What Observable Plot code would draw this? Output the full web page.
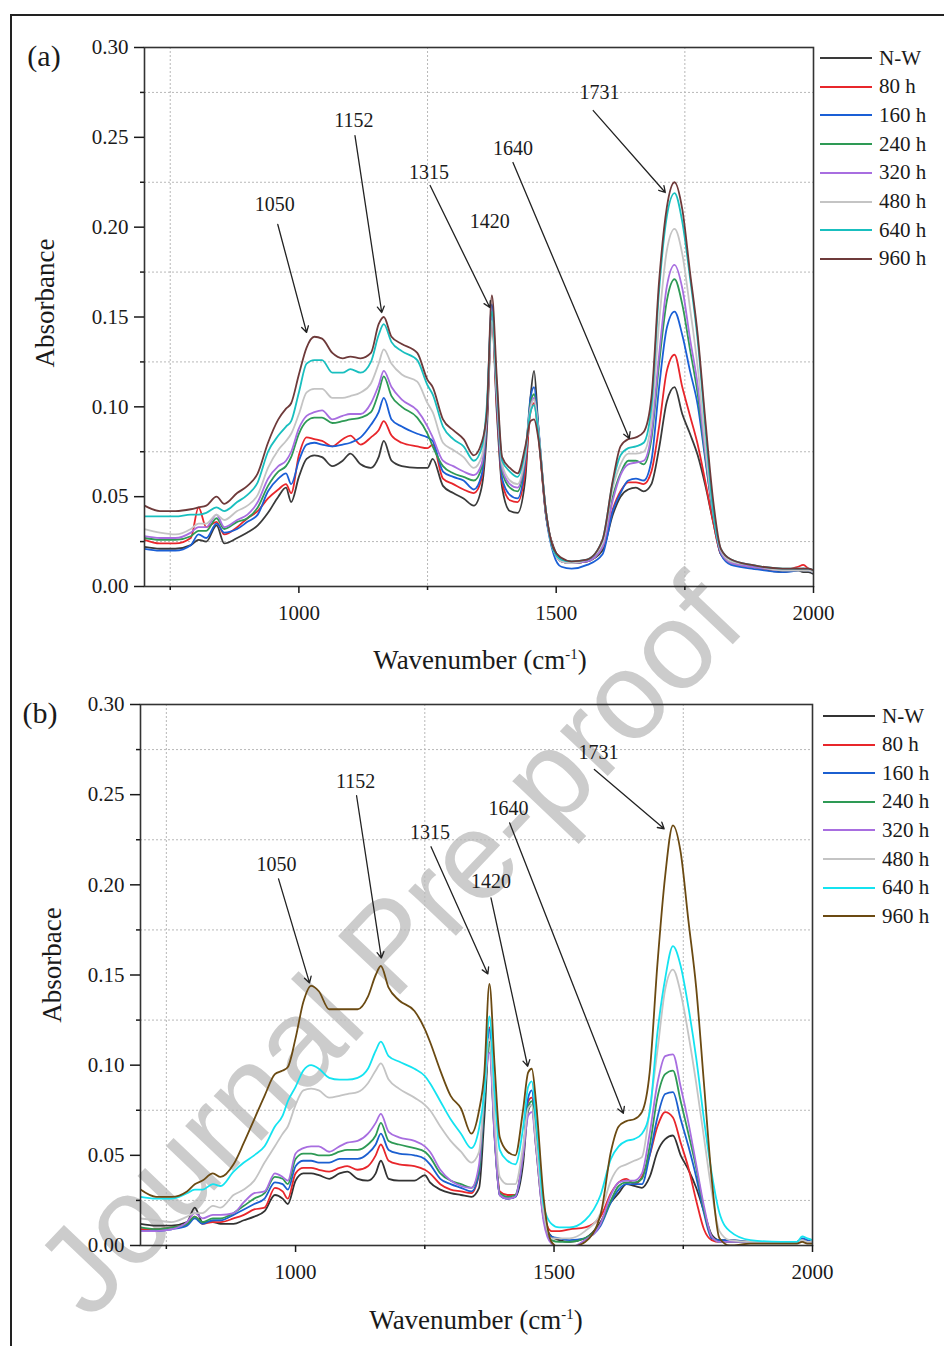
<!DOCTYPE html>
<html>
<head>
<meta charset="utf-8">
<script src="https://cdn.jsdelivr.net/npm/d3@7"></script>
<script src="https://cdn.jsdelivr.net/npm/@observablehq/plot@0.6"></script>
<style>
  html, body { margin: 0; padding: 0; background: #fff; }
  body { width: 944px; height: 1346px; overflow: hidden; position: relative; font-family: "Liberation Serif", "Times New Roman", serif; color: #1a1a1a; }
  #frame { position: absolute; left: 10px; top: 14px; width: 1000px; height: 1400px; border-left: 2px solid #222; border-top: 2px solid #222; }
  #wm { position: absolute; left: 388px; top: 945px; transform: translate(-50%, -50%) rotate(-46.5deg); font-family: "Liberation Sans", Arial, sans-serif; font-size: 124px; color: #cccccc; white-space: nowrap; z-index: 0; }
  .panel { position: absolute; left: 0; z-index: 1; }
  .lab { position: absolute; z-index: 2; white-space: nowrap; transform: translate(-50%, -50%); }
  .ylab { position: absolute; z-index: 2; white-space: nowrap; transform: translate(-50%, -50%) rotate(-90deg); font-size: 27px; }
  .xlab { font-size: 27px; }
  .plab { font-size: 30px; }
  .legrow { position: absolute; z-index: 2; height: 24px; display: flex; align-items: center; font-size: 21px; white-space: nowrap; }
  .legrow .sw { display: inline-block; width: 52px; height: 0; border-top: 2.5px solid #000; margin-right: 7px; }
</style>
</head>
<body>
<div id="frame"></div>
<div id="wm">Journal Pre-proof</div>
<div id="pa" class="panel" style="top:0px"></div>
<div id="pb" class="panel" style="top:680px"></div>
<script>
// ---------------- data ----------------
const wavenumbers = [700,730,760,790,805,820,840,855,880,900, 920,940,960,975,985,1000,1015,1030,1045,1065,
  1085,1100,1120,1140,1155,1165,1180,1200,1230,1250, 1260,1280,1300,1320,1340,1355,1365,1375,1385,1395,
  1410,1425,1440,1450,1457,1465,1480,1495,1510,1530, 1560,1590,1610,1625,1640,1655,1670,1685,1700,1715,
  1730,1745,1760,1775,1790,1805,1820,1840,1880,1940, 1970,1980,1990,2000];

const seriesNames = ["N-W","80 h","160 h","240 h","320 h","480 h","640 h","960 h"];
const colorsA = ["#3a3a3a","#e8262b","#1a5fd6","#2e9a55","#a86ee0","#c4c4c4","#19bfbf","#6e3a3a"];
const colorsB = ["#333333","#e8262b","#1b5fd0","#2e9a55","#a86ee0","#c4c4c4","#14e3f0","#6b4a12"];

// panel (a)
const a_NW = [.022,.021,.021,.023,.026,.025,.034,.024,.027,.030, .034,.041,.050,.055,.047,.061,.071,.073,.072,.067,
  .070,.074,.068,.066,.072,.081,.070,.067,.066,.066, .071,.056,.052,.049,.045,.055,.085,.148,.095,.055,
  .042,.041,.060,.105,.120,.090,.040,.022,.015,.013, .014,.020,.040,.050,.054,.055,.053,.057,.077,.103,
  .111,.096,.085,.073,.056,.036,.018,.013,.011,.008, .009,.008,.008,.007];
const a_80 = [.026,.024,.024,.027,.044,.033,.036,.029,.033,.038, .042,.049,.054,.057,.052,.073,.083,.082,.081,.078,
  .082,.084,.079,.083,.087,.092,.084,.080,.078,.077, .079,.060,.057,.054,.052,.060,.090,.150,.098,.058,
  .048,.047,.065,.097,.102,.085,.040,.021,.014,.013, .014,.022,.043,.053,.058,.058,.057,.064,.089,.120,
  .129,.111,.095,.079,.058,.036,.018,.013,.011,.009, .011,.012,.010,.008];
const a_160 = [.021,.020,.020,.023,.029,.027,.035,.030,.032,.036, .040,.053,.060,.063,.057,.070,.079,.080,.079,.078,
  .079,.080,.083,.090,.097,.105,.093,.089,.085,.083, .081,.064,.061,.059,.054,.062,.092,.157,.102,.060,
  .051,.049,.070,.105,.111,.090,.040,.018,.011,.010, .012,.018,.042,.052,.059,.060,.059,.070,.111,.144,
  .153,.140,.120,.101,.070,.040,.018,.012,.010,.008, .009,.010,.009,.008];
const a_240 = [.027,.026,.026,.028,.031,.031,.038,.032,.036,.038, .044,.056,.064,.067,.072,.085,.092,.094,.094,.091,
  .092,.093,.094,.097,.108,.117,.106,.100,.094,.085, .078,.067,.063,.061,.059,.066,.094,.152,.104,.064,
  .055,.053,.072,.102,.107,.088,.042,.020,.014,.013, .014,.022,.050,.063,.070,.070,.068,.082,.124,.159,
  .171,.157,.132,.107,.072,.040,.019,.013,.011,.009, .009,.009,.009,.008];
const a_320 = [.028,.027,.027,.030,.033,.033,.040,.033,.037,.040, .047,.060,.067,.070,.075,.088,.095,.097,.098,.093,
  .095,.096,.096,.102,.112,.120,.111,.104,.098,.089, .083,.070,.067,.064,.062,.068,.095,.150,.104,.066,
  .057,.055,.073,.100,.105,.088,.042,.020,.014,.013, .014,.022,.048,.062,.068,.069,.070,.085,.129,.167,
  .179,.166,.138,.112,.074,.041,.019,.013,.011,.009, .009,.009,.009,.008];
const a_480 = [.032,.030,.029,.032,.035,.035,.040,.037,.042,.045, .051,.066,.076,.081,.085,.096,.108,.110,.110,.105,
  .105,.106,.108,.113,.124,.132,.124,.118,.114,.102, .097,.080,.076,.072,.066,.072,.096,.148,.106,.068,
  .059,.057,.074,.099,.104,.088,.042,.020,.014,.013, .015,.024,.055,.068,.074,.074,.075,.092,.147,.187,
  .199,.185,.155,.122,.078,.042,.020,.014,.012,.009, .009,.009,.009,.008];
const a_640 = [.039,.039,.039,.040,.040,.041,.044,.042,.047,.051, .058,.075,.084,.089,.092,.108,.124,.126,.126,.119,
  .119,.121,.119,.125,.140,.146,.136,.131,.126,.112, .107,.089,.082,.078,.070,.077,.100,.153,.110,.070,
  .064,.061,.076,.097,.101,.086,.042,.020,.015,.014, .015,.026,.058,.073,.077,.078,.080,.100,.165,.206,
  .219,.203,.172,.137,.088,.042,.021,.015,.012,.010, .010,.010,.010,.009];
const a_960 = [.045,.042,.042,.043,.044,.045,.050,.046,.052,.056, .063,.080,.093,.099,.102,.118,.133,.139,.138,.130,
  .127,.128,.127,.130,.146,.150,.139,.135,.130,.115, .111,.093,.087,.082,.073,.080,.096,.162,.114,.072,
  .066,.063,.078,.092,.093,.083,.042,.021,.016,.014, .015,.026,.059,.078,.082,.083,.086,.105,.170,.211,
  .225,.210,.175,.140,.092,.048,.021,.015,.012,.010, .010,.010,.010,.009];

// panel (b)
const b_NW = [.012,.011,.011,.013,.021,.013,.013,.012,.012,.014, .016,.019,.028,.026,.023,.036,.040,.040,.039,.037,
  .040,.041,.037,.036,.040,.047,.037,.036,.036,.039, .035,.031,.029,.028,.027,.032,.070,.113,.060,.028,
  .026,.027,.045,.075,.078,.055,.015,.005,.003,.002, .004,.013,.024,.029,.034,.033,.032,.038,.052,.059,
  .061,.050,.042,.032,.019,.006,.003,.003,.002,.002, .002,.003,.002,.002];
const b_80 = [.009,.009,.010,.012,.016,.012,.013,.013,.015,.017, .020,.021,.032,.030,.026,.040,.043,.043,.042,.041,
  .043,.044,.042,.044,.050,.056,.047,.045,.044,.042, .040,.034,.031,.030,.029,.040,.085,.121,.065,.030,
  .028,.028,.050,.080,.082,.060,.018,.008,.008,.009, .010,.016,.029,.035,.037,.034,.038,.050,.066,.074,
  .071,.057,.043,.025,.009,.003,.002,.002,.002,.002, .002,.003,.002,.002];
const b_160 = [.008,.008,.009,.011,.015,.012,.014,.014,.017,.020, .023,.026,.035,.034,.031,.044,.047,.047,.046,.046,
  .048,.048,.048,.051,.056,.062,.053,.051,.050,.048, .045,.037,.034,.032,.030,.040,.080,.120,.062,.028,
  .026,.027,.050,.082,.086,.062,.016,.005,.004,.003, .004,.011,.024,.031,.034,.034,.034,.050,.071,.084,
  .085,.070,.055,.038,.018,.004,.003,.003,.002,.002, .002,.004,.003,.002];
const b_240 = [.010,.009,.010,.012,.016,.013,.015,.015,.018,.022, .026,.029,.038,.037,.034,.048,.051,.051,.050,.050,
  .052,.053,.053,.056,.061,.068,.058,.056,.054,.052, .049,.040,.036,.034,.032,.042,.080,.112,.062,.029,
  .027,.028,.050,.077,.080,.060,.015,.003,.002,.002, .004,.012,.025,.033,.035,.035,.037,.055,.082,.095,
  .097,.080,.062,.043,.020,.005,.002,.002,.002,.002, .002,.003,.002,.002];
const b_320 = [.008,.008,.009,.013,.018,.015,.017,.017,.018,.024, .029,.030,.040,.038,.036,.051,.054,.055,.055,.052,
  .055,.057,.058,.062,.068,.073,.063,.060,.058,.055, .052,.042,.036,.033,.032,.045,.085,.107,.060,.028,
  .026,.027,.050,.072,.074,.055,.013,.001,-.001,-.001, .003,.012,.028,.035,.036,.036,.040,.062,.090,.105,
  .106,.088,.068,.045,.022,.005,.002,.002,.002,.002, .002,.003,.002,.002];
const b_480 = [.015,.014,.013,.016,.018,.018,.022,.021,.028,.031, .036,.046,.055,.062,.066,.078,.086,.087,.086,.082,
  .083,.084,.085,.090,.097,.101,.092,.087,.082,.078, .075,.066,.058,.052,.046,.052,.085,.115,.070,.038,
  .034,.034,.055,.076,.078,.058,.018,.004,.004,.004, .008,.018,.036,.043,.045,.047,.049,.075,.108,.142,
  .153,.140,.117,.090,.060,.030,.008,.003,.002,.002, .002,.003,.002,.002];
const b_640 = [.027,.026,.026,.029,.031,.031,.034,.033,.041,.046, .050,.055,.066,.072,.080,.088,.097,.100,.098,.093,
  .092,.092,.093,.098,.108,.113,.105,.102,.098,.094, .090,.080,.070,.062,.054,.065,.085,.127,.085,.053,
  .047,.045,.065,.088,.091,.070,.022,.012,.010,.010, .014,.028,.048,.055,.058,.059,.062,.074,.118,.148,
  .166,.155,.132,.104,.070,.040,.018,.008,.003,.002, .002,.005,.004,.003];
const b_960 = [.031,.027,.027,.030,.034,.036,.040,.038,.045,.057, .070,.083,.095,.097,.099,.115,.135,.144,.141,.131,
  .131,.131,.131,.138,.150,.155,.143,.136,.130,.120, .113,.097,.083,.076,.062,.075,.095,.145,.100,.060,
  .052,.050,.075,.096,.098,.080,.026,.002,-.001,-.001, .002,.017,.052,.066,.069,.070,.074,.096,.156,.205,
  .233,.218,.180,.143,.090,.037,.004,.000,.001,.001, .001,.002,.001,.001];

const xMajorTicks = [1000, 1500, 2000];
const xMinorTicks = [750, 1250, 1750];
const yMajorTicks = [0, 0.05, 0.10, 0.15, 0.20, 0.25, 0.30];
const yMinorTicks = [0.025, 0.075, 0.125, 0.175, 0.225, 0.275];

// annotations: label, text position, arrow start -> arrow end (data units)
const annotA = [
  {label: "1050", tx: 953,  ty: 0.2126, x1: 959,  y1: 0.2015, x2: 1015, y2: 0.1414},
  {label: "1152", tx: 1107, ty: 0.2594, x1: 1109, y1: 0.2510, x2: 1161, y2: 0.1525},
  {label: "1315", tx: 1253, ty: 0.2304, x1: 1255, y1: 0.2232, x2: 1371, y2: 0.1553},
  {label: "1420", tx: 1371, ty: 0.2032, x1: null, y1: null,   x2: null, y2: null},
  {label: "1640", tx: 1416, ty: 0.2438, x1: 1416, y1: 0.2360, x2: 1642, y2: 0.0824},
  {label: "1731", tx: 1584, ty: 0.2750, x1: 1572, y1: 0.2649, x2: 1712, y2: 0.2193}
];
const annotB = [
  {label: "1050", tx: 963,  ty: 0.2111, x1: 967,  y1: 0.2033, x2: 1027, y2: 0.1456},
  {label: "1152", tx: 1116, ty: 0.2572, x1: 1118, y1: 0.2494, x2: 1166, y2: 0.1594},
  {label: "1315", tx: 1260, ty: 0.2289, x1: 1262, y1: 0.2211, x2: 1372, y2: 0.1506},
  {label: "1420", tx: 1378, ty: 0.2017, x1: 1378, y1: 0.1928, x2: 1449, y2: 0.0994},
  {label: "1640", tx: 1412, ty: 0.2422, x1: 1414, y1: 0.2344, x2: 1634, y2: 0.0733},
  {label: "1731", tx: 1586, ty: 0.2733, x1: 1578, y1: 0.2640, x2: 1713, y2: 0.2311}
];

// ---------------- drawing ----------------
function makePanel(valueArrays, colors, annots, m, h) {
  const rows = [];
  valueArrays.forEach((arr, i) => arr.forEach((v, j) => rows.push({w: wavenumbers[j], v, s: seriesNames[i]})));
  const arrows = annots.filter(d => d.x1 != null);
  return Plot.plot({
    width: 944, height: h,
    marginTop: m.top, marginRight: m.right, marginBottom: m.bottom, marginLeft: m.left,
    x: {domain: [700, 2000], label: null},
    y: {domain: [0, 0.3], label: null},
    color: {domain: seriesNames, range: colors},
    style: {background: "transparent", fontFamily: "'Liberation Serif', 'Times New Roman', serif", fontSize: "21px", color: "#1a1a1a", overflow: "visible"},
    marks: [
      Plot.gridX(xMinorTicks, {stroke: "#b8b8b8", strokeOpacity: 1, strokeDasharray: "2,2"}),
      Plot.gridY(yMinorTicks, {stroke: "#b8b8b8", strokeOpacity: 1, strokeDasharray: "2,2"}),
      Plot.line(rows, {x: "w", y: "v", z: "s", stroke: "s", strokeWidth: 1.8, clip: true, curve: "monotone-x"}),
      Plot.arrow(arrows, {x1: "x1", y1: "y1", x2: "x2", y2: "y2", stroke: "#222", strokeWidth: 1.3, headLength: 8}),
      Plot.text(annots, {x: "tx", y: "ty", text: "label", fontSize: 20, fill: "#1a1a1a"}),
      Plot.frame({stroke: "#333", strokeWidth: 1.6}),
      Plot.axisX(xMajorTicks, {tickSize: 7, tickPadding: 12, tickFormat: d => String(d), fontSize: 21, strokeWidth: 1.5}),
      Plot.axisX(xMinorTicks, {tickSize: 4, tickFormat: () => "", strokeWidth: 1.5}),
      Plot.axisY(yMajorTicks, {tickSize: 10, tickPadding: 6, tickFormat: d3.format(".2f"), fontSize: 21, strokeWidth: 1.5}),
      Plot.axisY(yMinorTicks, {tickSize: 4, tickFormat: () => "", strokeWidth: 1.5})
    ]
  });
}

const panelA = makePanel([a_NW, a_80, a_160, a_240, a_320, a_480, a_640, a_960], colorsA, annotA,
  {top: 47, right: 131, bottom: 94, left: 144}, 680);
document.getElementById("pa").appendChild(panelA);

const panelB = makePanel([b_NW, b_80, b_160, b_240, b_320, b_480, b_640, b_960], colorsB, annotB,
  {top: 24, right: 132, bottom: 101, left: 140}, 666);
document.getElementById("pb").appendChild(panelB);

// ---------------- labels & legends (HTML) ----------------
function addLabel(html, cls, x, y) {
  const d = document.createElement("div");
  d.className = cls;
  d.style.left = x + "px"; d.style.top = y + "px";
  d.innerHTML = html;
  document.body.appendChild(d);
}
addLabel("(a)", "lab plab", 44, 56);
addLabel("(b)", "lab plab", 40, 713);
addLabel("Wavenumber (cm<sup style='font-size:0.55em'>-1</sup>)", "lab xlab", 480, 660);
addLabel("Wavenumber (cm<sup style='font-size:0.55em'>-1</sup>)", "lab xlab", 476, 1320);
addLabel("Absorbance", "ylab", 45, 303);
addLabel("Absorbace", "ylab", 52, 965);

function addLegend(colors, left, top0, step) {
  seriesNames.forEach((name, i) => {
    const r = document.createElement("div");
    r.className = "legrow";
    r.style.left = left + "px";
    r.style.top = (top0 + i * step - 12) + "px";
    const sw = document.createElement("span");
    sw.className = "sw";
    sw.style.borderTopColor = colors[i];
    r.appendChild(sw);
    r.appendChild(document.createTextNode(name));
    document.body.appendChild(r);
  });
}
addLegend(colorsA, 820, 58, 28.7);
addLegend(colorsB, 823, 716, 28.6);
</script>
</body>
</html>
